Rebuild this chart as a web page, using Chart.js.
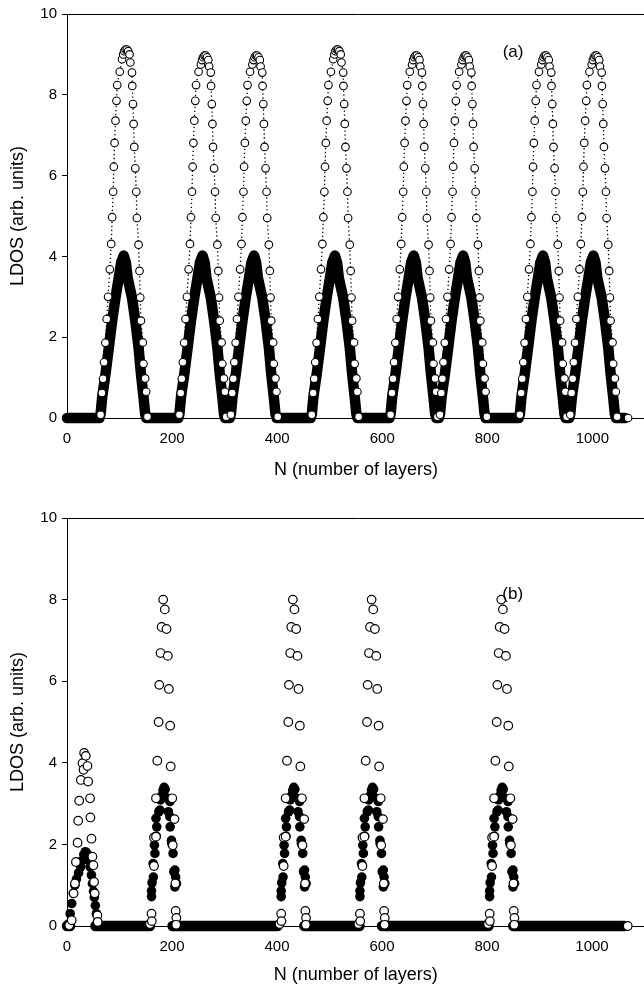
<!DOCTYPE html>
<html><head><meta charset="utf-8">
<script src="https://cdn.jsdelivr.net/npm/chart.js@4.4.1/dist/chart.umd.min.js"></script>
<style>
html,body{margin:0;padding:0;background:#fff;overflow:hidden;width:644px;height:992px;}
.panel{position:absolute;left:0;width:650px;height:496px;}
#pa{top:0}#pb{top:496px}
canvas{display:block}
</style></head><body>
<div class="panel" id="pa"><canvas id="ca" width="650" height="496"></canvas></div>
<div class="panel" id="pb"><canvas id="cb" width="650" height="496"></canvas></div>
<script>
// ---------- tick labels ----------
const xTicks = [0, 200, 400, 600, 800, 1000];
const yTicks = [0, 2, 4, 6, 8, 10];

// ---------- panel (a) ----------
const peakCentersA = [108, 258, 356, 510, 660, 754, 906, 1002];
const peakIsTallA = [true, false, false, true, false, false, false, false];
// open circles, offsets from peak centre: [dN, LDOS]
const openLeftArmA = [[-44,0.08],[-41.5,0.62],[-39.5,0.97],[-37.5,1.38],[-35,1.86],[-32.5,2.45],[-29.8,3.0],[-26.5,3.68],[-23.9,4.31],[-22,4.97],[-20.1,5.6],[-18.9,6.22],[-17.4,6.81],[-15.7,7.36],[-13.8,7.85],[-12.4,8.24],[-7.6,8.57]];
const openTopTallA = [[-3.2,8.88],[-1,9.0],[1,9.08],[3.5,9.12],[6,9.12],[8.5,9.08],[11,9.0],[12.5,8.8]];
const openTopLowA = [[-3.2,8.75],[-1,8.86],[1,8.93],[3.5,8.97],[6,8.97],[8.5,8.93],[11,8.86],[12.5,8.7]];
const openRightArmA = [[15.7,8.55],[16.2,8.22],[17.6,7.77],[18.8,7.28],[20,6.71],[22,6.18],[23.8,5.6],[25.1,4.95],[28.2,4.29],[30,3.64],[31.4,2.98],[32.7,2.41],[36.4,1.87],[37.6,1.34],[40.8,0.98],[42.7,0.65],[45.1,0.03]];
const openEndA = [[1068, 0]];
// filled circles
const filledPeakA = [[-46,0],[-44,0.1],[-41,0.52],[-34.6,1.1],[-28.3,1.75],[-22,2.41],[-15.7,2.98],[-9.5,3.47],[-5,3.85],[0,4.02],[4,3.85],[7.4,3.47],[15.7,2.98],[22,2.41],[28.2,1.75],[32.7,1.1],[37.6,0.52],[40.8,0.1],[43,0]];
const filledStartA = [[0, 0]];
const filledEndA = [[1062, 0]];

// ---------- panel (b) ----------
const peakCentersB = [184, 431, 581, 828];
const openFirstPeakB = [[4.3,0.02],[8.9,0.14],[12.6,0.8],[15.1,1.04],[17,1.57],[20.2,2.04],[21.3,2.58],[23.2,3.07],[26.4,3.58],[29.6,3.99],[31.5,3.83],[32.6,4.24],[35.8,4.17],[39,3.92],[40.2,3.54],[43.9,3.13],[44.6,2.66],[46.6,2.14],[48.4,1.7],[50.3,1.49],[51.5,1.08],[52.8,0.8],[57.9,0.26],[58.5,0.1]];
const filledFirstPeakB = [[0,0],[3,0.05],[6,0.3],[9,0.55],[12,0.8],[15,1.0],[18,1.15],[22,1.3],[26,1.45],[29,1.6],[32,1.75],[35,1.82],[38,1.78],[41,1.62],[44,1.45],[46.5,1.25],[48.5,1.04],[50.5,0.85],[52,0.7],[54,0.5],[56,0.3],[58,0.1]];
const openPeakB = [[-26,0.05],[-23,0.3],[-22.5,0.12],[-18.3,1.47],[-18.3,2.17],[-14.5,2.19],[-14.5,3.13],[-12,4.05],[-9.5,5.0],[-8.3,5.91],[-5.8,6.69],[-3.8,7.33],[-0.8,8.0],[2.3,7.76],[5.5,7.28],[8,6.62],[10,5.81],[12.5,4.91],[13.5,3.91],[16.5,3.13],[17.5,1.98],[20.8,2.62],[22.5,1.04],[23,0.37],[24.3,0.2],[24,0.03]];
const filledPeakB = [[-23,0.72],[-23,0.86],[-22,1.06],[-19.5,1.2],[-20,1.53],[-16.5,1.78],[-17.5,1.98],[-14,2.2],[-13,2.43],[-14.5,2.64],[-9,2.8],[-7,2.84],[-6,3.09],[-3,3.2],[-1,3.33],[1,3.4],[3,3.35],[4.5,3.15],[9,2.8],[12,3.05],[12,2.68],[12.5,2.43],[15,2.1],[15.5,2.02],[18,1.78],[19.5,1.33],[21.5,1.37],[23,1.2],[21.5,0.96],[24.5,1.04]];
const zeroRunsB = [[0,6],[54,158],[201,401],[452,557],[600,803],[850,1062]];
const openEndB = [[1068, 0]];

// ---------- build point tables ----------
const pt = (x, y) => ({x: x, y: y});
const shift = (c, prof) => prof.map(p => pt(c + p[0], p[1]));
const abs = prof => prof.map(p => pt(p[0], p[1]));

const openA = [];
peakCentersA.forEach((c, i) => {
  openA.push(...shift(c, openLeftArmA), ...shift(c, peakIsTallA[i] ? openTopTallA : openTopLowA), ...shift(c, openRightArmA));
});
openA.push(...abs(openEndA));
const filledA = [...abs(filledStartA)];
peakCentersA.forEach(c => filledA.push(...shift(c, filledPeakA)));
filledA.push(...abs(filledEndA));

const openB = [...abs(openFirstPeakB)];
peakCentersB.forEach(c => openB.push(...shift(c, openPeakB)));
openB.push(...abs(openEndB));
const filledB = [...abs(filledFirstPeakB)];
peakCentersB.forEach(c => filledB.push(...shift(c, filledPeakB)));
const baseB = [];
zeroRunsB.forEach(r => { baseB.push(pt(r[0], 0), pt(r[1], 0), pt(r[1] + 1, null)); });

// ---------- styling ----------
const FONT = '"Liberation Sans", Arial, Helvetica, sans-serif';
const framePlugin = {
  id: 'frame',
  afterDraw(chart, args, opts) {
    const {ctx, chartArea} = chart;
    ctx.save();
    ctx.strokeStyle = '#000'; ctx.lineWidth = 1;
    const yt = Math.round(chartArea.top) + 0.5;
    ctx.beginPath(); ctx.moveTo(chartArea.left, yt); ctx.lineTo(chart.width, yt); ctx.stroke();
    ctx.font = '17px ' + FONT; ctx.fillStyle = '#000';
    ctx.textAlign = 'center'; ctx.textBaseline = 'middle';
    ctx.fillText(opts.label, chart.scales.x.getPixelForValue(opts.lx), chart.scales.y.getPixelForValue(opts.ly));
    ctx.restore();
  }
};

function scales(xAxisHeight, titlePadBottom) {
  return {
    x: {
      type: 'linear', min: 0, max: 1100,
      afterBuildTicks: s => { s.ticks = xTicks.map(v => ({value: v})); },
      afterFit: s => { s.height = xAxisHeight; },
      grid: {display: false, drawTicks: false},
      border: {display: true, color: '#000', width: 1},
      ticks: {color: '#000', font: {family: FONT, size: 15}, padding: 12, maxRotation: 0, autoSkip: false,
              callback: v => String(v)},
      title: {display: true, text: 'N (number of layers)', color: '#000', font: {family: FONT, size: 18}, padding: {top: 0, bottom: titlePadBottom}}
    },
    y: {
      min: 0, max: 10,
      afterBuildTicks: s => { s.ticks = yTicks.map(v => ({value: v})); },
      afterFit: s => { s.width = 67; },
      grid: {display: true, drawOnChartArea: false, drawTicks: true, tickLength: 5, color: '#000', tickColor: '#000'},
      border: {display: true, color: '#000', width: 1},
      ticks: {color: '#000', font: {family: FONT, size: 15}, padding: 5, callback: v => String(v)},
      title: {display: true, text: 'LDOS (arb. units)', color: '#000', font: {family: FONT, size: 18}, padding: {top: 7, bottom: 0}}
    }
  };
}

function baseOptions(padTop, xAxisHeight, titlePadBottom, label, ly) {
  return {
    responsive: false, animation: false, devicePixelRatio: 1,
    layout: {padding: {top: padTop, left: 0, right: 0, bottom: 0}},
    plugins: {legend: {display: false}, tooltip: {enabled: false}, frame: {label: label, lx: 849, ly: ly}},
    scales: scales(xAxisHeight, titlePadBottom)
  };
}

new Chart(document.getElementById('ca'), {
  type: 'scatter',
  data: {datasets: [
    {data: openA, showLine: true, borderColor: '#000', borderWidth: 1.3, borderDash: [1.3, 2.7],
     pointRadius: 3.8, pointBorderWidth: 1.1, pointBackgroundColor: '#fff', pointBorderColor: '#000', clip: false},
    {data: filledA, showLine: true, borderColor: '#000', borderWidth: 10.5, borderCapStyle: 'round', borderJoinStyle: 'round',
     pointRadius: 4.5, pointBorderWidth: 0, pointBackgroundColor: '#000', clip: false}
  ]},
  options: baseOptions(11, 78, 15, '(a)', 9.05),
  plugins: [framePlugin]
});

new Chart(document.getElementById('cb'), {
  type: 'scatter',
  data: {datasets: [
    {data: openB, showLine: false, pointRadius: 4.3, pointBorderWidth: 1.2, pointBackgroundColor: '#fff', pointBorderColor: '#000', clip: false},
    {data: filledB, showLine: false, pointRadius: 4.8, pointBorderWidth: 0, pointBackgroundColor: '#000', clip: false},
    {data: baseB, showLine: true, spanGaps: false, borderColor: '#000', borderWidth: 10.5, borderCapStyle: 'round',
     pointRadius: 0, clip: false}
  ]},
  options: baseOptions(22, 66, 6, '(b)', 8.13),
  plugins: [framePlugin]
});
</script>
</body></html>
